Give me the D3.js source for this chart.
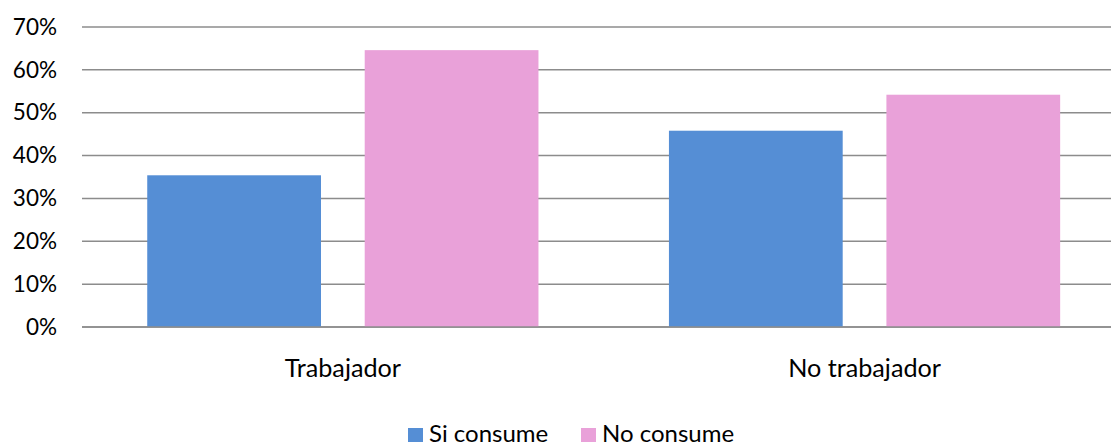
<!DOCTYPE html>
<html>
<head>
<meta charset="utf-8">
<script src="https://cdn.jsdelivr.net/npm/d3@7"></script>
<style>
  html, body { margin: 0; padding: 0; background: #ffffff; }
  svg { display: block; }
  text { font-family: Lato, "Open Sans", sans-serif; fill: #000; }
</style>
</head>
<body>
<svg id="chart" width="1111" height="447"></svg>
<script>
// Share of people who consume, by work status
const categories = ["Trabajador", "No trabajador"];
const seriesNames = ["Si consume", "No consume"];
const siConsume = [35.4, 45.8];
const noConsume = [64.6, 54.2];
const yTicks = [0, 10, 20, 30, 40, 50, 60, 70];
const colors = ["#558ed5", "#e9a1d9"];

const W = 1111, H = 447;
const plot = { left: 82, top: 27, bottom: 327, bandWidth: 521.7 };

const svg = d3.select("#chart");

const x0 = d3.scaleBand()
  .domain(categories)
  .range([plot.left, plot.left + plot.bandWidth * categories.length])
  .padding(0);

const x1 = d3.scaleBand()
  .domain(seriesNames)
  .range([0, x0.bandwidth()])
  .paddingInner(0.201)
  .paddingOuter(0.30);

const y = d3.scaleLinear().domain([0, 70]).range([plot.bottom, plot.top]);

// Horizontal gridlines
svg.append("g")
  .selectAll("line")
  .data(yTicks)
  .join("line")
  .attr("x1", plot.left)
  .attr("x2", W)
  .attr("y1", d => y(d))
  .attr("y2", d => y(d))
  .attr("stroke", "#8c8c8c")
  .attr("stroke-width", 1.5);

// Y axis labels
const yAxis = d3.axisLeft(y)
  .tickValues(yTicks)
  .tickFormat(d => d + "%")
  .tickSize(0)
  .tickPadding(0);

svg.append("g")
  .attr("transform", `translate(57,0)`)
  .call(yAxis)
  .call(g => g.select(".domain").remove())
  .selectAll("text")
  .style("font-family", "Lato, 'Open Sans', sans-serif")
  .style("font-size", "22.5px")
  .attr("fill", "#000");

// Bars
const rows = categories.map((c, i) => ({ cat: c, values: [siConsume[i], noConsume[i]] }));
const groups = svg.append("g")
  .selectAll("g")
  .data(rows)
  .join("g")
  .attr("transform", d => `translate(${x0(d.cat)},0)`);

groups.selectAll("rect")
  .data(d => d.values.map((v, j) => ({ key: seriesNames[j], v, j })))
  .join("rect")
  .attr("x", d => x1(d.key))
  .attr("width", x1.bandwidth())
  .attr("y", d => y(d.v))
  .attr("height", d => y(0) - y(d.v))
  .attr("fill", d => colors[d.j]);

// Baseline drawn over the bars
svg.append("line")
  .attr("x1", plot.left).attr("x2", W)
  .attr("y1", y(0)).attr("y2", y(0))
  .attr("stroke", "#8c8c8c").attr("stroke-width", 1.5);

// Category labels
svg.append("g")
  .selectAll("text")
  .data(categories)
  .join("text")
  .attr("x", d => x0(d) + x0.bandwidth() / 2)
  .attr("y", 377)
  .attr("text-anchor", "middle")
  .style("font-size", "25.2px")
  .text(d => d);

// Legend
const legendPos = [408, 581];
const legend = svg.append("g")
  .selectAll("g")
  .data(seriesNames)
  .join("g")
  .attr("transform", (d, i) => `translate(${legendPos[i]},428)`);

legend.append("rect")
  .attr("width", 15).attr("height", 14)
  .attr("fill", (d, i) => colors[i]);

legend.append("text")
  .attr("x", 21)
  .attr("y", 13.5)
  .style("font-size", "24px")
  .text(d => d);
</script>
</body>
</html>
